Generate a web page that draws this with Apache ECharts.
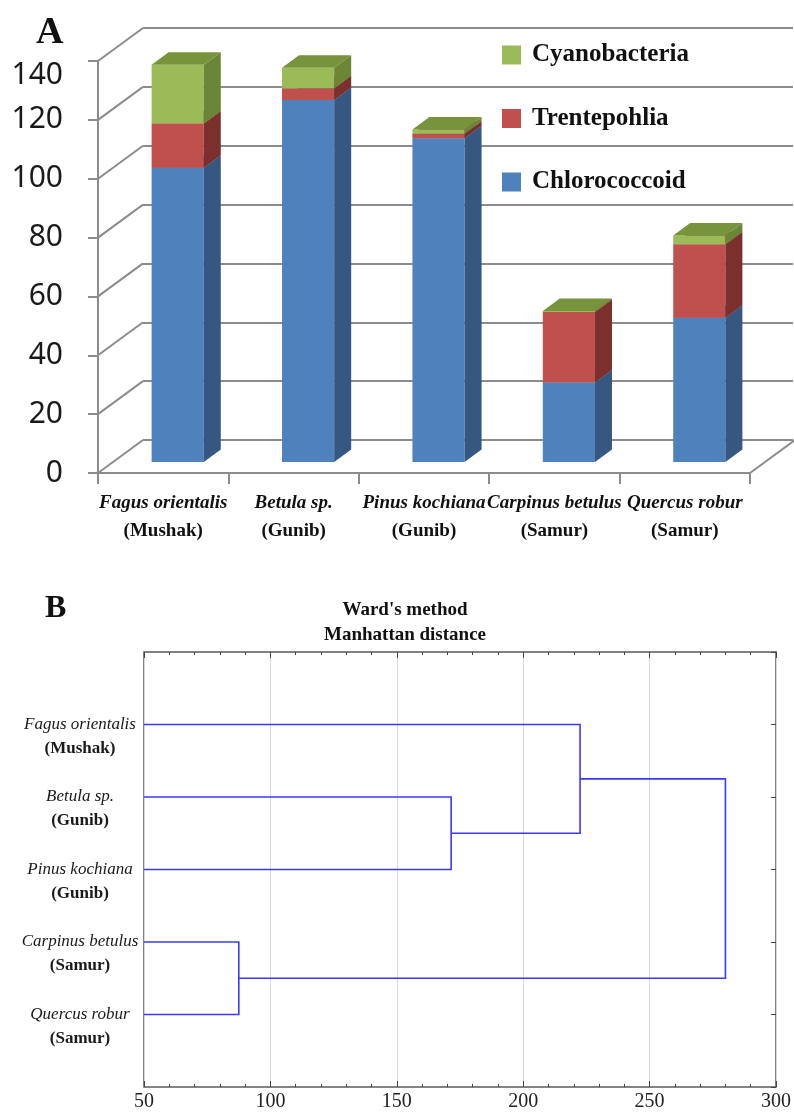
<!DOCTYPE html>
<html>
<head>
<meta charset="utf-8">
<script src="https://cdn.jsdelivr.net/npm/echarts@6/dist/echarts.min.js"></script>
<style>html,body{margin:0;padding:0;background:#fff;}#c{width:794px;height:1117px;}</style>
</head>
<body>
<div id="c"></div>
<script>
// ---------- Panel A data ----------
const categories = ['Fagus orientalis', 'Betula sp.', 'Pinus kochiana', 'Carpinus betulus', 'Quercus robur'];
const places = ['(Mushak)', '(Gunib)', '(Gunib)', '(Samur)', '(Samur)'];
const chlorococcoid = [100, 123, 110, 27, 49];
const trentepohlia = [15, 4, 1.5, 24, 25];
const cyanobacteria = [20, 7, 1.5, 0.3, 3];
const yTickValues = [0, 20, 40, 60, 80, 100, 120, 140];

// ---------- Panel B data ----------
const leaves = ['Fagus orientalis', 'Betula sp.', 'Pinus kochiana', 'Carpinus betulus', 'Quercus robur'];
const leafPlaces = ['(Mushak)', '(Gunib)', '(Gunib)', '(Samur)', '(Samur)'];
// merges: [childA, childB, linkage distance]; children are leaf indices (0..4) or 'n' + merge index
const merges = [
  [3, 4, 87.5],
  [1, 2, 171.5],
  [0, 'n1', 222.5],
  ['n2', 'n0', 280]
];
const distMin = 50, distMax = 300, distStep = 50;

// ---------- styling ----------
const DEPTH = [45, -33];        // floor / wall depth
const BAR_OFF = [14.5, -11];    // bar front plane offset
const BAR_D = [17, -12.5];      // bar depth
const axisGray = '#8c8c8c';

const colors = {
  Chlorococcoid: {front: '#4f81bd', side: '#36577f', top: '#4a78b0'},
  Trentepohlia: {front: '#c0504d', side: '#7b302e', top: '#a94542'},
  Cyanobacteria: {front: '#9bbb59', side: '#6b8636', top: '#77933c'}
};

function makeBarRender(c) {
  return function (params, api) {
    const i = api.value(0), s = api.value(1), e = api.value(2);
    const band = api.size([1, 0])[0];
    const w = band * 0.4;
    const b = api.coord([i, s]);
    const t = api.coord([i, e]);
    const cx = b[0] + BAR_OFF[0];
    const yb = b[1] + BAR_OFF[1];
    const yt = t[1] + BAR_OFF[1];
    const x0 = cx - w / 2, x1 = cx + w / 2;
    return {
      type: 'group',
      children: [
        {type: 'rect', shape: {x: x0, y: yt, width: w, height: yb - yt}, style: {fill: c.front}},
        {type: 'polygon', shape: {points: [[x1, yb], [x1 + BAR_D[0], yb + BAR_D[1]], [x1 + BAR_D[0], yt + BAR_D[1]], [x1, yt]]}, style: {fill: c.side}},
        {type: 'polygon', shape: {points: [[x0, yt], [x1, yt], [x1 + BAR_D[0], yt + BAR_D[1]], [x0 + BAR_D[0], yt + BAR_D[1]]]}, style: {fill: c.top}}
      ]
    };
  };
}

const dChl = [], dTre = [], dCya = [];
categories.forEach((_, i) => {
  const a = chlorococcoid[i], b = a + trentepohlia[i], c = b + cyanobacteria[i];
  dChl.push([i, 0, a]);
  dTre.push([i, a, b]);
  dCya.push([i, b, c]);
});

// ---------- dendrogram geometry from data ----------
const nodePos = {};
leaves.forEach((_, i) => { nodePos[i] = {y: i + 1, h: distMin}; });
const dendroData = [];
merges.forEach((m, k) => {
  const A = nodePos[m[0]], B = nodePos[m[1]];
  dendroData.push([A.h, A.y, m[2], B.y, B.h]);
  nodePos['n' + k] = {y: (A.y + B.y) / 2, h: m[2]};
});

const chart = echarts.init(document.getElementById('c'), null, {renderer: 'canvas'});
const serif = 'Liberation Serif';
const tickStyle = {color: '#444', width: 1};

const option = {
  backgroundColor: '#fff',
  animation: false,
  title: [
    {text: 'A', left: 31, top: 9, textStyle: {fontFamily: serif, fontWeight: 'bold', fontSize: 38, color: '#111'}},
    {text: 'B', left: 40, top: 588, textStyle: {fontFamily: serif, fontWeight: 'bold', fontSize: 32, color: '#111'}},
    {text: "Ward's method\nManhattan distance", left: 400, top: 593, textAlign: 'center',
     textStyle: {fontFamily: serif, fontWeight: 'bold', fontSize: 19, lineHeight: 25, color: '#111'}}
  ],
  legend: {
    data: ['Cyanobacteria', 'Trentepohlia', 'Chlorococcoid'],
    orient: 'vertical', left: 502, top: 40, padding: 0,
    itemWidth: 19, itemHeight: 19, itemGap: 33.5, icon: 'rect', selectedMode: false,
    textStyle: {fontFamily: serif, fontWeight: 'bold', fontSize: 25, lineHeight: 30, color: '#111', padding: [0, 0, 0, 6]}
  },
  grid: [
    {left: 98, right: 44, top: 61, bottom: 644},          // front plane (A)
    {left: 143, right: 1, top: 28, bottom: 677},          // back wall (A)
    {left: 144, right: 16, top: 652, bottom: 30, show: true, borderColor: '#5a5a5a', borderWidth: 1.5} // B
  ],
  xAxis: [
    {gridIndex: 0, type: 'category', data: categories,
     axisLine: {lineStyle: {color: axisGray, width: 2}},
     axisTick: {show: true, length: 11, lineStyle: {color: axisGray, width: 2}},
     axisLabel: {margin: 16, interval: 0,
       formatter: (v, idx) => '{n|' + v + '}\n{p|' + places[idx] + '}',
       rich: {
         n: {fontFamily: serif, fontStyle: 'italic', fontWeight: 'bold', fontSize: 19, lineHeight: 28, color: '#111'},
         p: {fontFamily: serif, fontWeight: 'bold', fontSize: 19, lineHeight: 28, color: '#111'}
       }}},
    {gridIndex: 1, type: 'category', data: categories, show: false},
    {gridIndex: 2, type: 'value', min: distMin, max: distMax, interval: distStep, position: 'bottom',
     axisLine: {show: false, onZero: false},
     axisTick: {show: true, inside: true, length: 6, lineStyle: tickStyle},
     minorTick: {show: true, splitNumber: 5, length: 3, lineStyle: tickStyle},
     splitLine: {show: true, lineStyle: {color: '#d9d9d9', width: 1}},
     axisLabel: {margin: 5, fontFamily: serif, fontSize: 20, color: '#222'}},
    {gridIndex: 2, type: 'value', min: distMin, max: distMax, interval: distStep, position: 'top',
     axisLine: {show: false, onZero: false},
     axisTick: {show: true, inside: true, length: 6, lineStyle: tickStyle},
     minorTick: {show: true, splitNumber: 5, length: 3, lineStyle: tickStyle},
     splitLine: {show: false}, axisLabel: {show: false}}
  ],
  yAxis: [
    {gridIndex: 0, type: 'value', min: 0, max: 140, interval: 20,
     axisLine: {show: true, lineStyle: {color: axisGray, width: 2}},
     axisTick: {show: true, length: 10, lineStyle: {color: axisGray, width: 2}},
     splitLine: {show: false},
     axisLabel: {margin: 35, fontFamily: 'Noto Sans', fontSize: 30, color: '#1a1a1a',
       formatter: v => v === 140 ? '{t|' + v + '}' : '{r|' + v + '}',
       rich: {
         t: {fontFamily: 'Noto Sans', fontSize: 30, color: '#1a1a1a', padding: [28, 0, 0, 0]},
         r: {fontFamily: 'Noto Sans', fontSize: 30, color: '#1a1a1a'}
       }}},
    {gridIndex: 1, type: 'value', min: 0, max: 140, interval: 20,
     axisLine: {show: false}, axisTick: {show: false}, axisLabel: {show: false},
     splitLine: {show: true, lineStyle: {color: axisGray, width: 2}}},
    {gridIndex: 2, type: 'value', min: 0, max: leaves.length + 1, interval: 1, inverse: true, position: 'left',
     axisLine: {show: false, onZero: false}, axisTick: {show: false}, splitLine: {show: false},
     axisLabel: {margin: 64, align: 'center',
       formatter: v => (v >= 1 && v <= leaves.length) ? '{e| }\n{n|' + leaves[v - 1] + '}\n{p|' + leafPlaces[v - 1] + '}' : '',
       rich: {
         e: {fontSize: 17, lineHeight: 24},
         n: {fontFamily: serif, fontStyle: 'italic', fontSize: 17, lineHeight: 24, color: '#1a1a1a'},
         p: {fontFamily: serif, fontWeight: 'bold', fontSize: 17, lineHeight: 24, color: '#1a1a1a'}
       }}},
    {gridIndex: 2, type: 'value', min: 0, max: leaves.length + 1, interval: 1, inverse: true, position: 'right',
     axisLine: {show: false, onZero: false}, splitLine: {show: false}, axisLabel: {show: false},
     axisTick: {show: true, inside: true, length: 5, lineStyle: tickStyle}}
  ],
  series: [
    // left wall diagonals
    {type: 'custom', xAxisIndex: 0, yAxisIndex: 0, clip: false, silent: true, z: 1,
     data: yTickValues.map(v => [0, v]), encode: {x: 0, y: 1},
     renderItem: (params, api) => {
       const y = api.coord([0, api.value(1)])[1];
       const x = params.coordSys.x;
       return {type: 'line', shape: {x1: x, y1: y, x2: x + DEPTH[0], y2: y + DEPTH[1]}, style: {stroke: axisGray, lineWidth: 2}};
     }},
    // right floor diagonal
    {type: 'custom', xAxisIndex: 0, yAxisIndex: 0, clip: false, silent: true, z: 1,
     data: [[categories.length - 1, 0]], encode: {x: 0, y: 1},
     renderItem: (params, api) => {
       const y = api.coord([0, 0])[1];
       const x = params.coordSys.x + params.coordSys.width;
       return {type: 'line', shape: {x1: x, y1: y, x2: x + DEPTH[0], y2: y + DEPTH[1]}, style: {stroke: axisGray, lineWidth: 2}};
     }},
    {name: 'Chlorococcoid', type: 'custom', xAxisIndex: 0, yAxisIndex: 0, clip: false, z: 3,
     itemStyle: {color: colors.Chlorococcoid.front}, data: dChl, encode: {x: 0, y: [1, 2]},
     renderItem: makeBarRender(colors.Chlorococcoid)},
    {name: 'Trentepohlia', type: 'custom', xAxisIndex: 0, yAxisIndex: 0, clip: false, z: 4,
     itemStyle: {color: colors.Trentepohlia.front}, data: dTre, encode: {x: 0, y: [1, 2]},
     renderItem: makeBarRender(colors.Trentepohlia)},
    {name: 'Cyanobacteria', type: 'custom', xAxisIndex: 0, yAxisIndex: 0, clip: false, z: 5,
     itemStyle: {color: colors.Cyanobacteria.front}, data: dCya, encode: {x: 0, y: [1, 2]},
     renderItem: makeBarRender(colors.Cyanobacteria)},
    // dendrogram
    {type: 'custom', xAxisIndex: 2, yAxisIndex: 2, clip: false, silent: true, z: 5,
     data: dendroData, encode: {x: [0, 2, 4], y: [1, 3]},
     renderItem: (params, api) => {
       const a = api.coord([api.value(0), api.value(1)]);
       const b = api.coord([api.value(2), api.value(1)]);
       const c = api.coord([api.value(2), api.value(3)]);
       const d = api.coord([api.value(4), api.value(3)]);
       return {type: 'polyline', shape: {points: [a, b, c, d]}, style: {stroke: '#3a3aff', lineWidth: 1.6, fill: null}};
     }}
  ]
};
chart.setOption(option);
</script>
</body>
</html>
